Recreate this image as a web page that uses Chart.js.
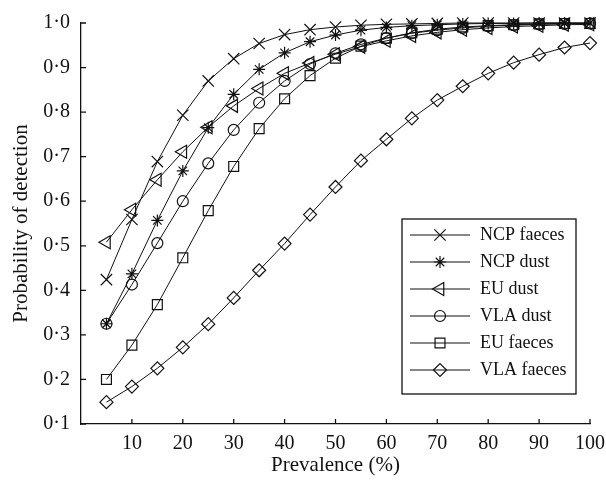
<!DOCTYPE html>
<html>
<head>
<meta charset="utf-8">
<script src="https://cdn.jsdelivr.net/npm/chart.js"></script>
<style>
    html, body { margin: 0; padding: 0; background: #fff; }
    #wrap { width: 606px; height: 480px; }
</style>
</head>
<body>
<div id="wrap"><canvas id="myChart" width="606" height="480"></canvas></div>
<script>
const prevalence = [5, 10, 15, 20, 25, 30, 35, 40, 45, 50, 55, 60, 65, 70, 75, 80, 85, 90, 95, 100];

const ncpFaeces = [0.424, 0.559, 0.689, 0.793, 0.870, 0.920, 0.954, 0.974, 0.985, 0.991, 0.995, 0.997, 0.998, 0.999, 1.0, 1.0, 1.0, 1.0, 1.0, 1.0];
const ncpDust = [0.325, 0.437, 0.557, 0.668, 0.765, 0.840, 0.896, 0.933, 0.958, 0.973, 0.984, 0.990, 0.994, 0.996, 0.998, 0.999, 0.999, 1.0, 1.0, 1.0];
const euDust = [0.508, 0.581, 0.648, 0.711, 0.766, 0.814, 0.853, 0.887, 0.910, 0.930, 0.947, 0.960, 0.971, 0.979, 0.985, 0.989, 0.992, 0.994, 0.996, 0.997];
const vlaDust = [0.325, 0.413, 0.506, 0.600, 0.685, 0.760, 0.821, 0.870, 0.908, 0.932, 0.952, 0.966, 0.977, 0.984, 0.989, 0.993, 0.995, 0.997, 0.998, 0.999];
const euFaeces = [0.200, 0.277, 0.368, 0.473, 0.579, 0.678, 0.763, 0.830, 0.882, 0.921, 0.948, 0.966, 0.978, 0.986, 0.991, 0.994, 0.996, 0.998, 0.999, 0.999];
const vlaFaeces = [0.149, 0.184, 0.225, 0.272, 0.324, 0.383, 0.445, 0.505, 0.570, 0.632, 0.691, 0.739, 0.786, 0.827, 0.858, 0.887, 0.911, 0.929, 0.945, 0.955];

const seriesNames = ['NCP faeces', 'NCP dust', 'EU dust', 'VLA dust', 'EU faeces', 'VLA faeces'];
const seriesValues = [ncpFaeces, ncpDust, euDust, vlaDust, euFaeces, vlaFaeces];

const xTitle = 'Prevalence (%)';
const yTitle = 'Probability of detection';

// marker look per series
const markers = [
    { style: 'crossRot', radius: 8, rotation: 0 },
    { style: 'star', radius: 6, rotation: 0 },
    { style: 'triangle', radius: 7.5, rotation: -90 },
    { style: 'circle', radius: 5.5, rotation: 0 },
    { style: 'rect', radius: 7, rotation: 0 },
    { style: 'rectRot', radius: 6.5, rotation: 0 }
];

const ink = '#111';
const serif = "'Liberation Serif', 'Times New Roman', serif";

function fmtDot(v) {
    return v.toFixed(1).replace('.', '\u00b7');
}

// short tick marks pointing into the plot
const innerTicks = {
    id: 'innerTicks',
    afterDraw(chart) {
        const ctx = chart.ctx;
        const xs = chart.scales.x;
        const ys = chart.scales.y;
        ctx.save();
        ctx.strokeStyle = ink;
        ctx.lineWidth = 1.3;
        ctx.beginPath();
        ys.ticks.forEach(t => {
            const py = ys.getPixelForValue(t.value);
            ctx.moveTo(xs.left, py);
            ctx.lineTo(xs.left + 5, py);
        });
        xs.ticks.forEach(t => {
            const px = xs.getPixelForValue(t.value);
            ctx.moveTo(px, ys.bottom);
            ctx.lineTo(px, ys.bottom - 5);
        });
        ctx.stroke();
        ctx.restore();
    }
};

// boxed legend with a line sample and marker for each series
const boxLegend = {
    id: 'boxLegend',
    afterDraw(chart) {
        const ctx = chart.ctx;
        const left = 402, top = 219, w = 174, h = 175;
        const rowH = 27;
        ctx.save();
        ctx.strokeStyle = ink;
        ctx.lineWidth = 1.3;
        ctx.strokeRect(left, top, w, h);
        ctx.font = '18px ' + serif;
        ctx.fillStyle = ink;
        ctx.textBaseline = 'middle';
        chart.data.datasets.forEach((ds, i) => {
            const y = top + 16 + rowH * i;
            ctx.lineWidth = 1.2;
            ctx.beginPath();
            ctx.moveTo(left + 8, y);
            ctx.lineTo(left + 68, y);
            ctx.stroke();
            if (Chart.helpers && Chart.helpers.drawPoint) {
                ctx.fillStyle = 'rgba(0,0,0,0)';
                Chart.helpers.drawPoint(ctx, {
                    pointStyle: ds.pointStyle,
                    rotation: ds.pointRotation,
                    radius: ds.pointRadius,
                    borderWidth: 1.2
                }, left + 38, y);
            }
            ctx.fillStyle = ink;
            ctx.fillText(ds.label, left + 78, y);
        });
        ctx.restore();
    }
};

const datasets = seriesNames.map((name, i) => ({
    label: name,
    data: prevalence.map((p, j) => ({ x: p, y: seriesValues[i][j] })),
    borderColor: ink,
    borderWidth: 1,
    backgroundColor: 'rgba(0,0,0,0)',
    pointStyle: markers[i].style,
    pointRadius: markers[i].radius,
    pointRotation: markers[i].rotation,
    pointBorderColor: ink,
    pointBackgroundColor: 'rgba(0,0,0,0)',
    pointBorderWidth: 1.2,
    tension: 0,
    fill: false,
    clip: false
}));

const ctx = document.getElementById('myChart').getContext('2d');
new Chart(ctx, {
    type: 'line',
    data: { datasets: datasets },
    plugins: [innerTicks, boxLegend],
    options: {
        responsive: false,
        animation: false,
        layout: { padding: { top: 23, right: 16, left: 0, bottom: 0 } },
        plugins: {
            legend: { display: false },
            tooltip: { enabled: false }
        },
        scales: {
            x: {
                type: 'linear',
                min: 0,
                max: 100,
                afterBuildTicks(scale) {
                    scale.ticks = scale.ticks.filter(t => t.value > 0);
                },
                afterFit(scale) {
                    scale.height = 56;
                    scale.paddingLeft = 0;
                    scale.paddingRight = 0;
                },
                ticks: {
                    stepSize: 10,
                    padding: 8,
                    color: ink,
                    maxRotation: 0,
                    font: { family: serif, size: 20 }
                },
                grid: { display: false, drawTicks: false },
                border: { display: true, color: ink, width: 1.3 },
                title: {
                    display: true,
                    text: xTitle,
                    color: ink,
                    padding: { top: 0, bottom: 2 },
                    font: { family: serif, size: 21 }
                }
            },
            y: {
                min: 0.1,
                max: 1.0,
                afterFit(scale) {
                    scale.width = 81;
                    scale.paddingTop = 0;
                    scale.paddingBottom = 0;
                },
                ticks: {
                    stepSize: 0.1,
                    padding: 11,
                    color: ink,
                    font: { family: serif, size: 20 },
                    callback: v => fmtDot(v)
                },
                grid: { display: false, drawTicks: false },
                border: { display: true, color: ink, width: 1.3 },
                title: {
                    display: true,
                    text: yTitle,
                    color: ink,
                    padding: { top: 9, bottom: 0 },
                    font: { family: serif, size: 21 }
                }
            }
        }
    }
});
</script>
</body>
</html>
